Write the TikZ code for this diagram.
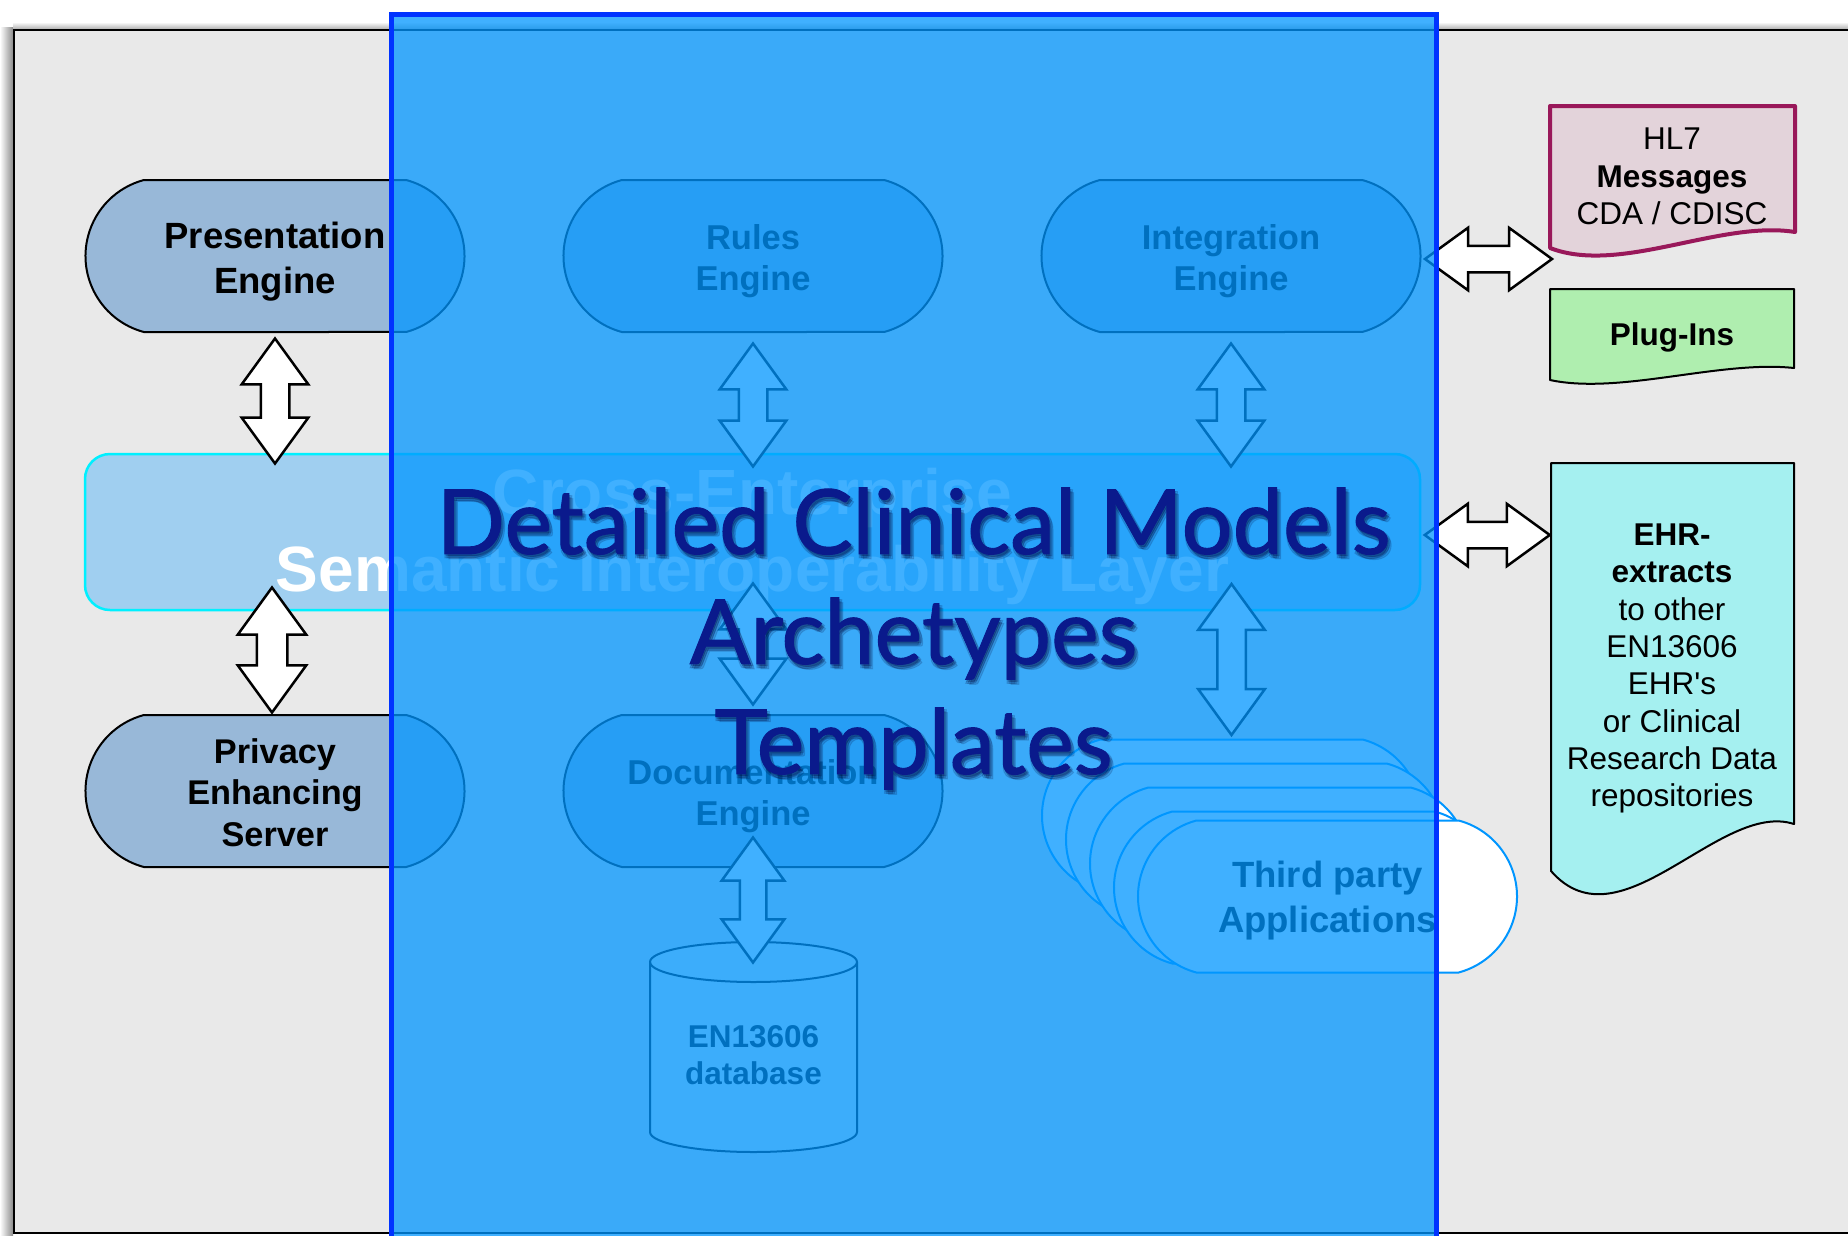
\documentclass[tikz,border=0pt]{standalone}
\usepackage{fontspec}
\setmainfont{Liberation Sans}
\newfontfamily\titlefont[FakeBold=1]{Lato}
\usetikzlibrary{shapes.misc,shapes.arrows,calc,positioning}

\definecolor{framegray}{RGB}{233,233,233}
\definecolor{enginefill}{RGB}{152,184,216}
\definecolor{layerfill}{RGB}{160,207,240}
\definecolor{layercyan}{RGB}{0,240,255}
\definecolor{hlfill}{RGB}{227,211,218}
\definecolor{hlborder}{RGB}{153,24,90}
\definecolor{plugfill}{RGB}{175,238,175}
\definecolor{ehrfill}{RGB}{165,240,240}
\definecolor{appblue}{RGB}{0,150,255}
\definecolor{veilblue}{RGB}{0,150,255}
\definecolor{veilborder}{RGB}{0,51,255}
\definecolor{titleblue}{RGB}{10,26,140}

\begin{document}
\begin{tikzpicture}[x=1pt, y=-1pt,
  engine/.style={rounded rectangle, rounded rectangle arc length=150, draw, line width=2pt,
    fill=enginefill, minimum width=379pt, minimum height=152pt, inner sep=0pt, align=center,
    execute at begin node={\rule{0pt}{77pt}}, font=\bfseries\fontsize{34.5}{41}\selectfont},
  app/.style={engine, draw=appblue, fill=white, font=\bfseries\fontsize{36.5}{45}\selectfont},
  dblarrow/.style={double arrow, draw, fill=white, line width=2.5pt, inner sep=13pt,
    minimum width=0pt, double arrow head extend=19pt, double arrow tip angle=72},
  varrow/.style={dblarrow, rotate=90},
  doctext/.style={align=center, inner sep=0pt, font=\fontsize{31.5}{37.5}\selectfont},
  titletext/.style={align=center, inner sep=0pt, text=titleblue,
    font=\titlefont\fontsize{90}{110}\selectfont}]
\useasboundingbox (0,0) rectangle (1848,1235);
\clip (0,0) rectangle (1848,1235);

% frame with its shadow
\shade[left color=white, right color=black!45] (0,27) rectangle (13,1235);
\shade[top color=white, bottom color=black!30] (13,22) rectangle (1848,29);
\draw[fill=framegray, line width=2pt] (14,30) rectangle (1870,1233);

% semantic layer
\node[rectangle, rounded corners=25pt, draw=layercyan, line width=2.5pt, fill=layerfill,
  minimum width=1335pt, minimum height=156pt, align=center, text=white,
  execute at begin node={\rule{0pt}{132pt}},
  font=\bfseries\fontsize{64}{77}\selectfont] (sil) at (752.5,532)
  {Cross-Enterprise\\Semantic Interoperability Layer};

% engines
\node[engine, execute at begin node={\rule{0pt}{83pt}},
  font=\bfseries\fontsize{36.5}{45}\selectfont] (pe) at (275,256) {Presentation\\Engine};
\node[engine] (re) at (753,256) {Rules\\Engine};
\node[engine] (ie) at (1231,256) {Integration\\Engine};
\node[engine, execute at begin node={\rule{0pt}{110.5pt}},
  font=\bfseries\fontsize{34.3}{41.5}\selectfont] (ps) at (275,791) {Privacy\\Enhancing\\Server};
\node[engine] (de) at (753,791) {Documentation\\Engine};

% third party stack
\node[app] (tp1) at (1231.5,815.5) {};
\node[app] (tp2) at ($(tp1)+(24,24)$) {};
\node[app] (tp3) at ($(tp2)+(24,24)$) {};
\node[app] (tp4) at ($(tp3)+(24,24)$) {};
\node[app, execute at begin node={\rule{0pt}{80.5pt}}] (tp5) at ($(tp4)+(24,9)$) {Third party\\Applications};

% database
\draw[fill=black!5, line width=2pt] (650,962) -- (650,1132)
  arc[start angle=180, end angle=0, x radius=103.5, y radius=20] -- (857,962)
  arc[start angle=0, end angle=-180, x radius=103.5, y radius=20] -- cycle;
\draw[line width=2pt] (650,962) arc[start angle=180, end angle=0, x radius=103.5, y radius=20];
\node[doctext, font=\bfseries\fontsize{31.5}{37}\selectfont] (db) at (753.5,1055) {EN13606\\database};

% documents
\draw[hlborder, line width=4pt, line join=round, fill=hlfill] (1550,106) -- (1795,106) -- (1795,232)
  .. controls (1720,220) and (1620,275) .. (1550,248) -- cycle;
\node[doctext] (hl7) at (1672,176.5) {HL7\\\textbf{Messages}\\CDA / CDISC};
\draw[line width=2pt, line join=round, fill=plugfill] (1550,289) -- (1794,289) -- (1794,368)
  .. controls (1720,360) and (1620,395) .. (1550,380) -- cycle;
\node[doctext, font=\bfseries\fontsize{31.5}{37.5}\selectfont] (plug) at (1672,337) {Plug-Ins};
\draw[line width=2pt, line join=round, fill=ehrfill] (1551,463) -- (1794,463) -- (1794,824)
  .. controls (1720,800) and (1620,950) .. (1551,871) -- cycle;
\node[doctext, font=\fontsize{31.5}{37.3}\selectfont] (ehr) at (1672,668.5)
  {\textbf{EHR-}\\\textbf{extracts}\\to other\\EN13606\\EHR\textquotesingle s\\or Clinical\\Research Data\\repositories};

% block arrows
\node[varrow, minimum height=125pt] (a1) at ($(pe.south)+(0,68)$) {};
\node[varrow, minimum height=125pt, inner sep=14pt] (a2) at ($(ps.north)+(-3,-64)$) {};
\node[varrow, minimum height=123pt] (a3) at ($(re.south)+(0,72)$) {};
\node[varrow, minimum height=123pt] (a4) at ($(ie.south)+(0,72)$) {};
\node[varrow, minimum height=121pt] (a5) at ($(de.north)+(0,-70)$) {};
\node[varrow, minimum height=151pt] (a6) at ($(tp1.north)+(0,-79)$) {};
\node[varrow, minimum height=125pt, inner sep=12pt, double arrow head extend=18pt] (a7) at ($(de.south)+(0,32)$) {};
\node[dblarrow, minimum height=127pt, inner sep=12pt, double arrow head extend=18pt] (a8) at ($(ie.east)+(67,3)$) {};
\node[dblarrow, minimum height=125pt, inner sep=12pt, double arrow head extend=18pt] (a9) at ($(sil.east)+(66,3)$) {};

% blue veil
\fill[veilblue, fill opacity=0.75] (391,14) rectangle (1436.5,1250);
\draw[veilborder, line width=5pt] (391,1250) -- (391,14) -- (1436.5,14) -- (1436.5,1250);

% title with a soft shadow
\foreach \dx/\dy [count=\i] in {1/2, 2/4, 4/5, 3/2, 0/4}
  \node[titletext, text=black!80!blue, opacity=0.13] (titleshadow\i) at (913.5+\dx,638.5+\dy)
    {Detailed Clinical Models\\Archetypes\\Templates};
\node[titletext] (title) at (913.5,638.5) {Detailed Clinical Models\\Archetypes\\Templates};
\end{tikzpicture}
\end{document}
